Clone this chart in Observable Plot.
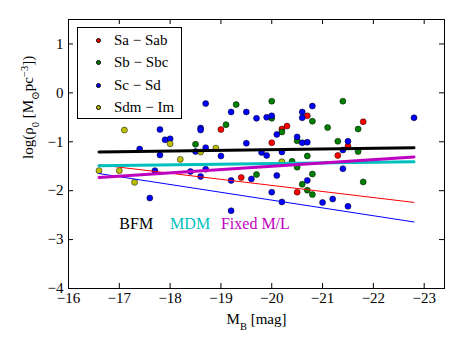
<!DOCTYPE html>
<html>
<head>
<meta charset="utf-8">
<script src="https://cdn.jsdelivr.net/npm/d3@7"></script>
<script src="https://cdn.jsdelivr.net/npm/@observablehq/plot@0.6"></script>
<style>
  body { margin: 0; background: white; }
  #wrap { position: relative; width: 463px; height: 348px; }
  #legend { position: absolute; left: 77px; top: 27px; width: 105px; height: 92px;
    border: 1px solid black; background: white; font-family: "Liberation Serif", "Times New Roman", "DejaVu Serif", serif; font-size: 15px; box-sizing: border-box; }
  .row { position: absolute; left: 0; height: 22px; display: flex; align-items: center; }
  .mk { position: absolute; width: 5px; height: 5px; border-radius: 50%; border: 0.5px solid #000; box-sizing: border-box; }
  .lb { position: absolute; white-space: nowrap; }
</style>
</head>
<body>
<div id="wrap"></div>
<script>
// ---- data ----
const saX = [-20.7, -20.2, -20.3, -19.0, -21.8, -20.0, -21.5, -21.3, -19.4, -20.5];
const saY = [-0.47, -0.74, -0.68, -0.75, -0.59, -1.02, -1.09, -1.28, -1.73, -2.03];

const sbX = [-20.0, -19.3, -21.4, -20.0, -20.8, -19.1, -20.2, -21.1, -21.7, -18.5, -20.5, -21.3, -20.7, -21.7, -20.4, -20.5, -19.7, -20.8, -20.6, -21.8, -20.7, -20.8];
const sbY = [-0.17, -0.24, -0.17, -0.52, -0.58, -0.65, -0.80, -0.71, -0.74, -1.05, -0.98, -0.99, -1.29, -1.20, -1.40, -1.52, -1.67, -1.66, -1.87, -1.82, -1.99, -2.08];

const scX = [-18.7, -19.2, -19.5, -19.7, -19.9, -20.0, -20.6, -20.6, -20.8, -22.8, -17.8, -18.6, -18.6, -17.9, -18.0, -17.4, -17.8, -18.5, -18.7, -19.0, -19.5, -19.8, -19.9, -20.1, -20.2, -20.5, -20.6, -20.7, -21.5, -21.4, -21.4, -17.7, -18.4, -18.6, -18.7, -19.2, -19.6, -20.1, -20.7, -20.0, -17.6, -20.2, -21.0, -21.2, -21.5, -19.2];
const scY = [-0.22, -0.39, -0.39, -0.52, -0.50, -0.47, -0.39, -0.51, -0.27, -0.51, -0.75, -0.72, -0.76, -0.96, -0.94, -1.15, -1.27, -1.20, -1.12, -1.29, -1.03, -1.22, -1.28, -0.85, -1.21, -0.90, -1.02, -1.01, -0.99, -1.17, -1.55, -1.59, -1.61, -1.71, -1.56, -1.79, -1.76, -1.69, -1.79, -2.03, -2.15, -2.23, -2.24, -2.17, -2.32, -2.41];

const sdX = [-17.1, -18.0, -18.2, -18.6, -18.9, -16.6, -17.0, -17.3, -20.2];
const sdY = [-0.76, -1.04, -1.36, -1.21, -1.13, -1.59, -1.59, -1.83, -1.41];

const seriesNames = ["Sa \u2212 Sab", "Sb \u2212 Sbc", "Sc \u2212 Sd", "Sdm \u2212 Im"];
const seriesColors = ["#ff0000", "#008000", "#0000ff", "#bfbf00"];

// fit lines
const fitX = [-16.6, -22.8];
const bfmY = [-1.21, -1.12];
const mdmY = [-1.49, -1.41];
const fixedY = [-1.73, -1.31];
const saFitY = [-1.47, -2.24];
const scFitY = [-1.65, -2.64];

const annX = [-17, -18, -19];
const annY = [-2.79, -2.79, -2.79];
const annText = ["BFM", "MDM", "Fixed M/L"];
const annColor = ["#000000", "#00bfbf", "#bf00bf"];

const xTicks = [-16, -17, -18, -19, -20, -21, -22, -23];
const yTicks = [1, 0, -1, -2, -3, -4];

// ---- build ----
const FONT = "'Liberation Serif', 'Times New Roman', 'DejaVu Serif', serif";
const seriesX = [saX, sbX, scX, sdX];
const seriesY = [saY, sbY, scY, sdY];
const points = [];
seriesX.forEach((xs, s) => xs.forEach((x, i) => points.push({x, y: seriesY[s][i], c: seriesColors[s]})));

const fit = (ys) => fitX.map((x, i) => ({x, y: ys[i]}));
const ann = annX.map((x, i) => ({x, y: annY[i], t: annText[i], c: annColor[i]}));

const W = 463, H = 348, mL = 68, mR = 19, mT = 19, mB = 60;
const fW = W - mL - mR, fH = H - mT - mB;

const chart = Plot.plot({
  width: W, height: H,
  marginLeft: mL, marginRight: mR, marginTop: mT, marginBottom: mB,
  style: {fontFamily: FONT, fontSize: "15px", background: "white", color: "black"},
  x: {domain: [-16, -23.4]},
  y: {domain: [-4, 1.5]},
  marks: [
    Plot.axisX(xTicks, {tickSize: 0, tickPadding: 4, label: null, tickFormat: d3.format("d"), fontFamily: FONT}),
    Plot.axisY(yTicks, {tickSize: 0, tickPadding: 5, label: null, tickFormat: d3.format("d"), fontFamily: FONT}),
    Plot.ruleX(xTicks, {insetTop: fH - 5, stroke: "black"}),
    Plot.ruleX(xTicks, {insetBottom: fH - 5, stroke: "black"}),
    Plot.ruleY(yTicks, {insetRight: fW - 5, stroke: "black"}),
    Plot.ruleY(yTicks, {insetLeft: fW - 5, stroke: "black"}),
    Plot.dot(points, {x: "x", y: "y", fill: "c", stroke: "black", strokeWidth: 0.5, r: 3}),
    Plot.line(fit(saFitY), {x: "x", y: "y", stroke: "#ff0000", strokeWidth: 1}),
    Plot.line(fit(scFitY), {x: "x", y: "y", stroke: "#0000ff", strokeWidth: 1}),
    Plot.line(fit(bfmY), {x: "x", y: "y", stroke: "#000000", strokeWidth: 3}),
    Plot.line(fit(mdmY), {x: "x", y: "y", stroke: "#00bfbf", strokeWidth: 3}),
    Plot.line(fit(fixedY), {x: "x", y: "y", stroke: "#bf00bf", strokeWidth: 3}),
    Plot.text(ann, {x: "x", y: "y", text: "t", fill: "c", textAnchor: "start", lineAnchor: "bottom", fontSize: 16, fontFamily: FONT}),
    Plot.text(["M_B [mag]"], {frameAnchor: "bottom", dy: 35, lineAnchor: "bottom", fontSize: 15, fontFamily: FONT}),
    Plot.text(["log(rho0 [Msun pc-3])"], {frameAnchor: "left", dx: -40, dy: 5, rotate: -90, fontSize: 15, fontFamily: FONT}),
    Plot.frame({stroke: "black"})
  ]
});

// rich text for axis labels
d3.select(chart).selectAll("text").each(function() {
  const t = this.textContent;
  if (t === "M_B [mag]") {
    this.innerHTML = 'M<tspan baseline-shift="sub" font-size="70%">B</tspan> [mag]';
  } else if (t === "log(rho0 [Msun pc-3])") {
    this.innerHTML = 'log(\u03C1<tspan baseline-shift="sub" font-size="70%">0</tspan> [M<tspan baseline-shift="sub" font-size="70%">\u2299</tspan>pc<tspan baseline-shift="super" font-size="70%">\u22123</tspan>])';
  }
});

const wrap = document.getElementById("wrap");
wrap.appendChild(chart);

// legend
const lg = document.createElement("div");
lg.id = "legend";
seriesNames.forEach((name, i) => {
  const row = document.createElement("div");
  row.className = "row";
  row.style.top = (1 + i * 22.6) + "px";
  const mk = document.createElement("span");
  mk.className = "mk";
  mk.style.background = seriesColors[i];
  mk.style.left = "17.5px";
  const lb = document.createElement("span");
  lb.className = "lb";
  lb.style.left = "36px";
  lb.textContent = name;
  row.appendChild(mk);
  row.appendChild(lb);
  lg.appendChild(row);
});
wrap.appendChild(lg);
</script>
</body>
</html>
